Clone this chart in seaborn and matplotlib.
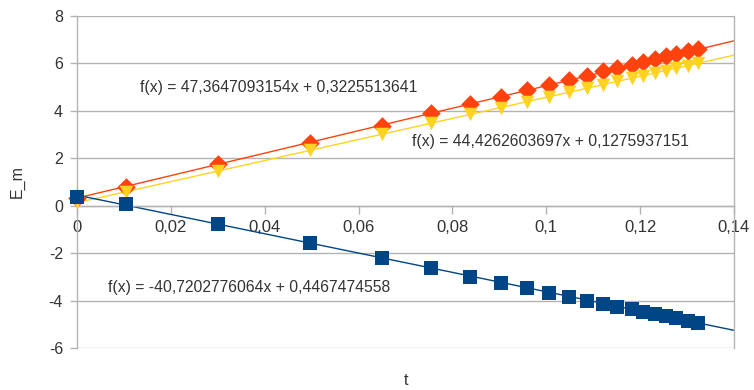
import numpy as np
import pandas as pd
import matplotlib
matplotlib.use("Agg")
import matplotlib.pyplot as plt
from matplotlib.ticker import FuncFormatter, MultipleLocator
import seaborn as sns

t = [0.0, 0.0104, 0.0301, 0.0497, 0.0650, 0.0754, 0.0837, 0.0903, 0.0958, 0.1006,
     0.1049, 0.1087, 0.1121, 0.1151, 0.1182, 0.1206, 0.1231, 0.1255, 0.1277, 0.1302, 0.1323]
e_orange = [0.32, 0.81, 1.75, 2.64, 3.37, 3.91, 4.30, 4.60, 4.89, 5.10,
            5.31, 5.48, 5.66, 5.80, 5.94, 6.06, 6.18, 6.30, 6.41, 6.52, 6.62]
e_yellow = [0.15, 0.59, 1.46, 2.34, 3.02, 3.48, 3.85, 4.14, 4.38, 4.60,
            4.79, 4.96, 5.11, 5.24, 5.38, 5.49, 5.60, 5.70, 5.80, 5.91, 6.01]
e_blue = [0.36, 0.06, -0.78, -1.58, -2.21, -2.64, -2.99, -3.24, -3.46, -3.69,
          -3.86, -4.00, -4.14, -4.25, -4.37, -4.47, -4.57, -4.66, -4.75, -4.85, -4.95]

# trend line coefficients as printed on the chart
fit_orange = (47.3647093154, 0.3225513641)
fit_yellow = (44.4262603697, 0.1275937151)
fit_blue = (-40.7202776064, 0.4467474558)

x_range = (0.0, 0.14)
y_range = (-6, 8)

sns.set_theme(style="white")
plt.rcParams['font.family'] = ['Liberation Sans', 'DejaVu Sans']
plt.rcParams['axes.unicode_minus'] = False

fig = plt.figure(figsize=(7.54, 3.90), dpi=100)
ax = fig.add_axes([77 / 754, 1 - 348 / 390, (734 - 77) / 754, (348 - 16) / 390])

df = pd.DataFrame({'t': t, 'orange': e_orange, 'yellow': e_yellow, 'blue': e_blue})
series = [
    ('orange', '#ff420e', 'D', 90, fit_orange),
    ('yellow', '#ffd320', 'v', 95, fit_yellow),
    ('blue', '#004586', 's', 100, fit_blue),
]

grid_col = '#b3b3b3'
txt_col = '#333333'
xs = np.array(x_range)
for name, col, mk, size, (a, b) in series:
    sns.lineplot(x=xs, y=a * xs + b, color=col, linewidth=1.0, ax=ax, zorder=2)
for name, col, mk, size, fit in series:
    sns.scatterplot(data=df, x='t', y=name, color=col, marker=mk, s=size,
                    linewidth=0, ax=ax, zorder=3, clip_on=False)

# equations
def eq(a, b):
    return f"f(x) = {a:.10f}x + {b:.10f}".replace('.', ',')

ax.text(0.0134, 4.97, eq(*fit_orange), fontsize=11.3, va='center', color=txt_col)
ax.text(0.0713, 2.70, eq(*fit_yellow), fontsize=11.3, va='center', color=txt_col)
ax.text(0.0065, -3.44, eq(*fit_blue), fontsize=11.3, va='center', color=txt_col)

ax.set_xlim(*x_range)
ax.set_ylim(*y_range)
ax.xaxis.set_major_locator(MultipleLocator(0.02))
ax.yaxis.set_major_locator(MultipleLocator(2))
fmt = FuncFormatter(lambda v, p: f"{v:.2f}".rstrip('0').rstrip('.').replace('.', ',') if abs(v) > 1e-9 else "0")
ax.xaxis.set_major_formatter(fmt)
ax.yaxis.set_major_formatter(FuncFormatter(lambda v, p: f"{int(round(v))}"))

ax.grid(axis='y', color=grid_col, linewidth=1.0)
ax.grid(axis='x', visible=False)
ax.set_axisbelow(True)

ax.spines['bottom'].set_position(('data', 0))
for s in ['left', 'right', 'bottom']:
    ax.spines[s].set_color(grid_col)
    ax.spines[s].set_linewidth(1.0)
ax.spines['top'].set_visible(False)

ax.tick_params(axis='x', direction='out', length=6, color=grid_col, width=1,
               labelsize=12, labelcolor=txt_col, pad=4, bottom=True)
ax.tick_params(axis='y', direction='out', length=5, color=grid_col, width=1,
               labelsize=11.5, labelcolor=txt_col, pad=5, left=True)

ax.set_xlabel('t', fontsize=11.5, color=txt_col)
ax.xaxis.set_label_coords(0.5, -0.075)
ax.set_ylabel('E_m', fontsize=11.5, color=txt_col)
ax.yaxis.set_label_coords(-0.079, 0.5)

fig.savefig('out.png', dpi=100)
